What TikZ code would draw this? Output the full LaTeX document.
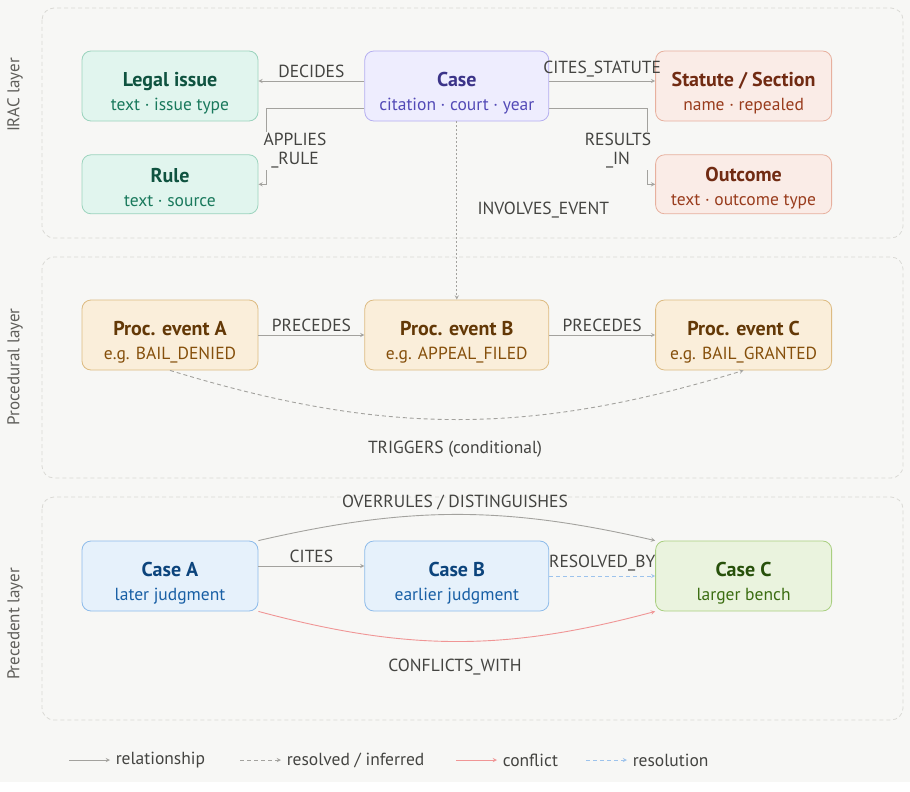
\documentclass[tikz,border=0pt]{standalone}
\usepackage{fontspec}
\setmainfont{PT Sans}
\usetikzlibrary{arrows, positioning}

\definecolor{bgc}{HTML}{F7F7F5}
\definecolor{layerc}{HTML}{DAD9D5}
\definecolor{tagc}{HTML}{5F5E5A}
\definecolor{edgec}{HTML}{A3A29E}
\definecolor{labelc}{HTML}{444441}
\definecolor{conflictc}{HTML}{F09595}
\definecolor{resolc}{HTML}{9DC3EC}
\definecolor{tealfill}{HTML}{E1F5EE}
\definecolor{tealdraw}{HTML}{9BD3BD}
\definecolor{tealtitle}{HTML}{0F5340}
\definecolor{tealsub}{HTML}{19795C}
\definecolor{purpfill}{HTML}{EEEDFE}
\definecolor{purpdraw}{HTML}{B4AEF0}
\definecolor{purptitle}{HTML}{3C3489}
\definecolor{purpsub}{HTML}{534AB7}
\definecolor{coralfill}{HTML}{FAECE7}
\definecolor{coraldraw}{HTML}{E7B09E}
\definecolor{coraltitle}{HTML}{712B13}
\definecolor{coralsub}{HTML}{993C1D}
\definecolor{amberfill}{HTML}{FAEEDA}
\definecolor{amberdraw}{HTML}{DDBB82}
\definecolor{ambertitle}{HTML}{633806}
\definecolor{ambersub}{HTML}{854F0B}
\definecolor{bluefill}{HTML}{E6F1FB}
\definecolor{bluedraw}{HTML}{8DBBEA}
\definecolor{bluetitle}{HTML}{0C447C}
\definecolor{bluesub}{HTML}{185FA5}
\definecolor{greenfill}{HTML}{EAF3DE}
\definecolor{greendraw}{HTML}{A9CF80}
\definecolor{greentitle}{HTML}{27500A}
\definecolor{greensub}{HTML}{3B6D11}

\newcommand{\titlef}{\fontsize{20}{23}\selectfont\bfseries}
\newcommand{\subf}{\fontsize{17.5}{24}\selectfont}
\newcommand{\elabf}{\fontsize{17.5}{19}\selectfont}
% title line, with a strut that pushes the text down a little
\newcommand{\boxtitle}[3][28pt]{{\titlef\color{#2}\rule{0pt}{#1}#3}}

\tikzset{
    box/.style={rectangle, draw, rounded corners=9pt, line width=0.8pt, minimum width=176pt, minimum height=70pt, align=center, font=\subf},
    teal/.style={box, fill=tealfill, draw=tealdraw, text=tealsub},
    purp/.style={box, fill=purpfill, draw=purpdraw, text=purpsub, minimum width=184pt},
    coral/.style={box, fill=coralfill, draw=coraldraw, text=coralsub},
    amber/.style={box, fill=amberfill, draw=amberdraw, text=ambersub},
    blue/.style={box, fill=bluefill, draw=bluedraw, text=bluesub},
    green/.style={box, fill=greenfill, draw=greendraw, text=greensub},
    rel/.style={draw=edgec, line width=0.9pt, ->, >=stealth},
    inferred/.style={rel, dash pattern=on 4pt off 3pt},
    conflict/.style={rel, draw=conflictc},
    resolution/.style={rel, draw=resolc, dash pattern=on 4pt off 3pt},
    elabel/.style={font=\elabf, text=labelc},
    layer/.style={draw=layerc, line width=0.8pt, dash pattern=on 4pt off 3pt, rounded corners=12pt},
    layertag/.style={rotate=90, font=\fontsize{17}{19}\selectfont, text=tagc},
    legtext/.style={font=\fontsize{17.5}{19}\selectfont, text=labelc}
}

\begin{document}
\begin{tikzpicture}[x=1pt, y=-1pt, node distance=106pt]
    \fill[bgc] (0,0) rectangle (910,782);
    \useasboundingbox (0,0) rectangle (910,792);

    % layers
    \draw[layer] (42,8) rectangle (903,238);
    \draw[layer] (42,257) rectangle (903,478);
    \draw[layer] (42,497) rectangle (903,720);
    \node[layertag] (iractag) at (15,95) {IRAC layer};
    \node[layertag] (proctag) at (15,367) {Procedural layer};
    \node[layertag] (prectag) at (15,624) {Precedent layer};

    % IRAC layer
    \node[teal] (issue) at (170,86) {\boxtitle{tealtitle}{Legal issue}\\text · issue type};
    \node[purp, right=of issue] (case) {\boxtitle{purptitle}{Case}\\citation · court · year};
    \node[coral, right=of case] (statute) {\boxtitle{coraltitle}{Statute / Section}\\name · repealed};
    \node[teal, minimum height=59pt, below=33pt of issue] (rule) {\boxtitle[21pt]{tealtitle}{Rule}\\text · source};
    \node[coral, minimum height=59pt, below=33pt of statute] (outcome) {\boxtitle[21pt]{coraltitle}{Outcome}\\text · outcome type};

    \draw[rel] ([yshift=5pt]case.west) -- node[elabel, above] {DECIDES} ([yshift=5pt]issue.east);
    \draw[rel] ([yshift=5pt]case.east) -- node[elabel, above] {CITES\_STATUTE} ([yshift=5pt]statute.west);
    \draw[rel] ([yshift=-22pt]case.west) -| ([xshift=8pt]rule.east) -- (rule.east);
    \draw[rel] ([yshift=-22pt]case.east) -| ([xshift=-8pt]outcome.west) -- (outcome.west);
    \node[elabel, fill=bgc, align=center, inner sep=1pt] (applab) at (295,151) {APPLIES\\\_RULE};
    \node[elabel, fill=bgc, align=center, inner sep=1pt] (reslab) at (618,151) {RESULTS\\\_IN};

    % Procedural layer
    \node[amber] (procA) at (170,335) {\boxtitle{ambertitle}{Proc. event A}\\e.g. BAIL\_DENIED};
    \node[amber, minimum width=184pt, right=of procA] (procB) {\boxtitle{ambertitle}{Proc. event B}\\e.g. APPEAL\_FILED};
    \node[amber, right=of procB] (procC) {\boxtitle{ambertitle}{Proc. event C}\\e.g. BAIL\_GRANTED};

    \draw[rel, dash pattern=on 2pt off 2pt] (case.south) -- node[elabel, right=17pt] {INVOLVES\_EVENT} (procB.north);
    \draw[rel] (procA) -- node[elabel, above] {PRECEDES} (procB);
    \draw[rel] (procB) -- node[elabel, above] {PRECEDES} (procC);
    \draw[inferred] (procA.south) to[out=-17, in=-163] (procC.south);
    \node[elabel] (triglab) at (455,449) {TRIGGERS (conditional)};

    % Precedent layer
    \node[blue] (caseA) at (170,576) {\boxtitle{bluetitle}{Case A}\\later judgment};
    \node[blue, minimum width=184pt, right=of caseA] (caseB) {\boxtitle{bluetitle}{Case B}\\earlier judgment};
    \node[green, right=of caseB] (caseC) {\boxtitle{greentitle}{Case C}\\larger bench};

    \draw[rel] ([yshift=10pt]caseA.east) -- node[elabel, above] {CITES} ([yshift=10pt]caseB.west);
    \draw[resolution] (caseB) -- node[elabel, above=1pt] {RESOLVED\_BY} (caseC);
    \draw[rel] (caseA.north east) to[out=13, in=167] (caseC.north west);
    \node[elabel] (overlab) at (455,502) {OVERRULES / DISTINGUISHES};
    \draw[conflict] (caseA.south east) to[out=-15, in=-165] (caseC.south west);
    \node[elabel] (conflab) at (455,667) {CONFLICTS\_WITH};

    % legend
    \coordinate (leg1) at (69,760);
    \coordinate (leg2) at (240,760);
    \coordinate (leg3) at (456,760);
    \coordinate (leg4) at (586,760);
    \draw[rel] (leg1) -- ++(41,0) node[legtext, right=2pt] (leg1txt) {relationship};
    \draw[inferred] (leg2) -- ++(41,0) node[legtext, right=2pt] (leg2txt) {resolved / inferred};
    \draw[conflict] (leg3) -- ++(41,0) node[legtext, right=2pt] (leg3txt) {conflict};
    \draw[resolution] (leg4) -- ++(41,0) node[legtext, right=2pt] (leg4txt) {resolution};
\end{tikzpicture}
\end{document}
